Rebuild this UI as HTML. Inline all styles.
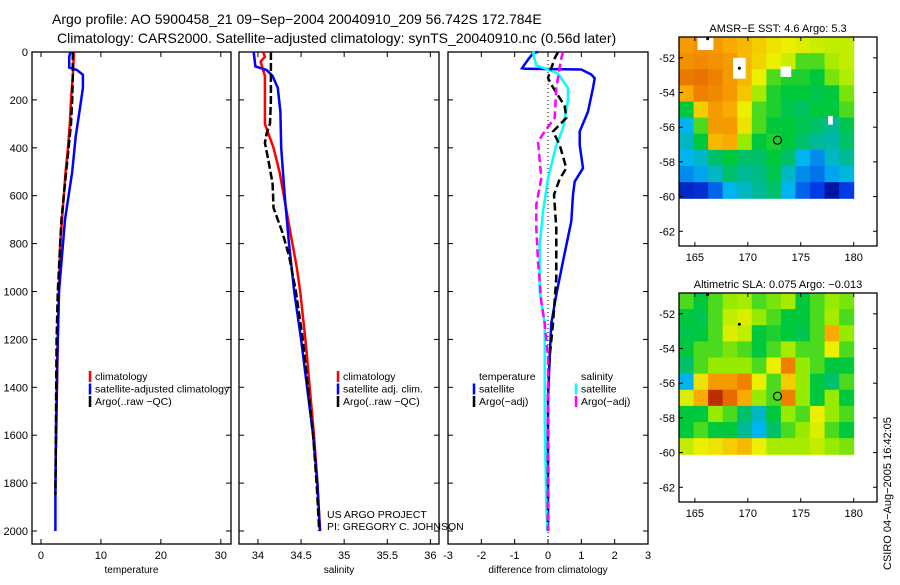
<!DOCTYPE html>
<html><head><meta charset="utf-8"><style>
body{margin:0;background:#fff;width:900px;height:580px;overflow:hidden;font-family:"Liberation Sans",sans-serif}
svg text{font-family:"Liberation Sans",sans-serif}
</style></head><body>
<svg id="chart" width="900" height="580" xmlns="http://www.w3.org/2000/svg">
<text x="52" y="24" font-size="14">Argo profile: AO 5900458_21 09−Sep−2004 20040910_209 56.742S 172.784E</text>
<text x="57" y="43" font-size="14">Climatology: CARS2000. Satellite−adjusted climatology: synTS_20040910.nc (0.56d later)</text>
<g id="g"></g>
<text transform="translate(891,570) rotate(-90)" font-size="11">CSIRO 04−Aug−2005 16:42:05</text>
</svg>
<script>
// ---- data ----
const depthTicks=[0,200,400,600,800,1000,1200,1400,1600,1800,2000];
const tempTicks=[0,10,20,30];
const salTicks=[34,34.5,35,35.5,36];
const diffTicks=[-3,-2,-1,0,1,2,3];
const tClimD=[0,100,200,300,400,500,600,700,800,1000,1200,1500,1650];
const tClimV=[5.5,5.3,5.0,4.8,4.5,4.1,3.8,3.5,3.2,3.0,2.8,2.6,2.5];
const tSatD=[0,20,65,75,95,150,250,350,500,600,700,850,1000,1300,1600,1850,2000];
const tSatV=[4.9,4.7,4.7,6.0,7.0,7.0,6.4,5.8,5.2,4.6,4.0,3.5,3.0,2.7,2.5,2.4,2.4];
const tArgoD=[0,100,200,300,400,500,600,700,800,1000,1200,1500,1850];
const tArgoV=[5.3,5.3,5.2,5.0,4.6,4.2,3.8,3.4,3.2,2.8,2.6,2.5,2.4];
const sClimD=[0,20,40,100,200,300,350,400,500,600,700,800,900,1000,1200,1400,1600,1800,2000];
const sClimV=[34.06,34.08,34.03,34.08,34.08,34.08,34.13,34.18,34.25,34.3,34.35,34.4,34.45,34.49,34.55,34.6,34.65,34.69,34.72];
const sSatD=[0,60,75,100,150,250,400,600,800,1000,1200,1400,1600,1800,2000];
const sSatV=[33.95,33.97,34.1,34.17,34.23,34.26,34.27,34.31,34.36,34.42,34.5,34.57,34.64,34.69,34.72];
const sArgoD=[0,100,200,300,340,380,450,550,650,750,850,1000,1200,1400,1600,1800,2000];
const sArgoV=[34.15,34.15,34.15,34.14,34.1,34.08,34.12,34.17,34.18,34.28,34.36,34.44,34.52,34.58,34.64,34.68,34.71];
const dTSatD=[0,5,32,68,70,73,94,110,150,249,332,388,485,541,596,707,874,1013,1133,1272,1453,2000];
const dTSatV=[-0.3,-0.45,-0.6,-0.78,-0.7,1.0,1.3,1.4,1.35,1.2,0.95,0.95,1.05,0.8,0.75,0.7,0.45,0.25,0.1,0.05,0.0,0.0];
const dSSatD=[0,5,56,73,90,150,200,318,388,527,666,805,1000,1133,1523,1885,2000];
const dSSatV=[-0.4,-0.45,-0.35,0.0,0.3,0.6,0.6,0.45,0.25,0.0,-0.15,-0.25,-0.25,-0.1,-0.1,-0.05,-0.02];
const dTArgoD=[0,26,108,136,226,275,332,388,485,530,596,736,944,1133,1272,1400,2000];
const dTArgoV=[0.3,0.2,0.0,0.1,0.5,0.55,0.15,0.35,0.55,0.35,0.18,0.25,0.25,0.15,0.05,0.0,0.0];
const dSArgoD=[0,26,150,275,332,374,527,638,736,874,1042,1133,1272,2000];
const dSArgoV=[0.45,0.4,0.25,0.2,-0.1,-0.3,-0.2,-0.35,-0.35,-0.3,-0.2,-0.1,0.0,0.0];
const latTicks=[-52,-54,-56,-58,-60,-62];
const lonTicks=[165,170,175,180];
const sstGrid=[
[0.82,0.83,0.82,0.8,0.78,0.75,0.72,0.7,0.68,0.66,0.65,0.65],
[0.83,0.84,0.83,0.82,0.78,0.74,0.7,0.66,0.55,0.55,0.62,0.65],
[0.86,0.87,0.85,0.82,0.78,0.7,0.55,0.52,0.52,0.5,0.58,0.63],
[0.8,0.85,0.84,0.82,0.76,0.62,0.52,0.5,0.5,0.48,0.5,0.58],
[0.5,0.75,0.82,0.8,0.7,0.55,0.52,0.48,0.46,0.5,0.5,0.55],
[0.3,0.55,0.82,0.82,0.72,0.55,0.5,0.5,0.48,0.45,0.4,0.48],
[0.35,0.5,0.78,0.8,0.6,0.5,0.52,0.5,0.45,0.4,0.38,0.45],
[0.3,0.35,0.45,0.5,0.45,0.45,0.5,0.45,0.3,0.25,0.35,0.4],
[0.25,0.28,0.35,0.45,0.4,0.42,0.48,0.35,0.25,0.22,0.28,0.32],
[0.1,0.12,0.2,0.3,0.35,0.4,0.45,0.3,0.2,0.15,0.05,0.15]];
const slaGrid=[
[0.55,0.5,0.55,0.6,0.62,0.55,0.58,0.62,0.5,0.55,0.6,0.58],
[0.5,0.48,0.55,0.65,0.68,0.6,0.55,0.5,0.5,0.55,0.62,0.55],
[0.48,0.5,0.55,0.68,0.65,0.5,0.52,0.5,0.48,0.55,0.8,0.6],
[0.5,0.55,0.55,0.58,0.55,0.5,0.55,0.62,0.55,0.55,0.7,0.55],
[0.45,0.55,0.6,0.6,0.6,0.55,0.7,0.85,0.6,0.55,0.5,0.5],
[0.3,0.72,0.82,0.82,0.85,0.7,0.55,0.75,0.6,0.5,0.45,0.55],
[0.68,0.8,0.95,0.88,0.8,0.6,0.55,0.85,0.6,0.5,0.6,0.5],
[0.5,0.5,0.6,0.55,0.45,0.35,0.5,0.6,0.55,0.7,0.6,0.55],
[0.5,0.55,0.5,0.5,0.4,0.3,0.45,0.55,0.6,0.68,0.55,0.5],
[0.65,0.7,0.72,0.75,0.78,0.7,0.62,0.62,0.62,0.65,0.6,0.58]];
const floatLon=172.8, floatLat=-56.75;
const trackLon=[166.2,169.2], trackLat=[-50.9,-52.6];
const sstHoles=[[166,-51.2,1.5,0.7],[169.2,-52.6,1.2,1.2],[173.6,-52.8,1.0,0.6],[177.8,-55.6,0.45,0.5]];

const NS="http://www.w3.org/2000/svg";
const G=document.getElementById('g');
function mk(tag,at,parent){const e=document.createElementNS(NS,tag);for(const k in at)e.setAttribute(k,at[k]);(parent||G).appendChild(e);return e;}
const yTop=52,yBot=544;
const yD=d=>yTop+d*0.2395;
const panels=[
 {x0:32,x1:231,xmin:-1.5,xmax:31.7,ticks:tempTicks,label:'temperature',name:'temperature-panel',showY:true},
 {x0:239,x1:439,xmin:33.78,xmax:36.1,ticks:salTicks,label:'salinity',name:'salinity-panel'},
 {x0:448,x1:648,xmin:-3,xmax:3,ticks:diffTicks,label:'difference from climatology',name:'difference-panel'}];
panels.forEach(p=>{p.sx=v=>p.x0+(v-p.xmin)/(p.xmax-p.xmin)*(p.x1-p.x0);
 const g=mk('g',{});p.g=g;
 mk('rect',{x:p.x0,y:yTop,width:p.x1-p.x0,height:yBot-yTop,fill:'none',stroke:'#000','stroke-width':1.3},g);
 depthTicks.forEach(d=>{const y=yD(d);
  mk('line',{x1:p.x0,x2:p.x0+5,y1:y,y2:y,stroke:'#000'},g);mk('line',{x1:p.x1,x2:p.x1-5,y1:y,y2:y,stroke:'#000'},g);
  if(p.showY){const t=mk('text',{x:p.x0-4,y:y+4,'font-size':11,'text-anchor':'end'},g);t.textContent=d;
   }});
 p.ticks.forEach(v=>{const x=p.sx(v);
  mk('line',{x1:x,x2:x,y1:yBot,y2:yBot-5,stroke:'#000'},g);mk('line',{x1:x,x2:x,y1:yTop,y2:yTop+5,stroke:'#000'},g);
  const t=mk('text',{x:x,y:559,'font-size':11,'text-anchor':'middle'},g);t.textContent=v;
  });
 const t=mk('text',{x:(p.x0+p.x1)/2,y:573,'font-size':10,'text-anchor':'middle'},g);t.textContent=p.label;
 
});
function line(p,D,V,col,dash,w,name){
 const pts=D.map((d,i)=>p.sx(V[i]).toFixed(1)+','+yD(d).toFixed(1)).join(' ');
 const e=mk('polyline',{points:pts,fill:'none',stroke:col,'stroke-width':w||2.5},p.g);
 if(dash)e.setAttribute('stroke-dasharray',dash);
 
 }
const [P1,P2,P3]=panels;
line(P1,tClimD,tClimV,'#f00',null,2.5,'temp-climatology-line');
line(P1,tSatD,tSatV,'#00f',null,2.5,'temp-satellite-line');
line(P1,tArgoD,tArgoV,'#000','8,3',2.5,'temp-argo-line');
line(P2,sClimD,sClimV,'#f00',null,2.5,'sal-climatology-line');
line(P2,sSatD,sSatV,'#00f',null,2.5,'sal-satellite-line');
line(P2,sArgoD,sArgoV,'#000','8,3',2.5,'sal-argo-line');
mk('line',{x1:P3.sx(0),x2:P3.sx(0),y1:yTop,y2:yBot,stroke:'#000','stroke-dasharray':'1,3'},P3.g);
line(P3,dTSatD,dTSatV,'#00f',null,2.5,'diff-temp-satellite-line');
line(P3,dSSatD,dSSatV,'#0ff',null,2.5,'diff-sal-satellite-line');
line(P3,dTArgoD,dTArgoV,'#000','8,4',2.5,'diff-temp-argo-line');
line(P3,dSArgoD,dSArgoV,'#f0f','8,4',2.5,'diff-sal-argo-line');
function legend(x,y,items){items.forEach((it,i)=>{const yy=y+i*12.5;
 if(it[1])mk('line',{x1:x,x2:x,y1:yy-9,y2:yy+2,stroke:it[1],'stroke-width':2.5});
 const t=mk('text',{x:x+5,y:yy,'font-size':10.5});t.textContent=it[0];
 });}
legend(90,380,[['climatology','#f00'],['satellite-adjusted climatology','#00f'],['Argo(..raw −QC)','#000']]);
legend(338,380,[['climatology','#f00'],['satellite adj. clim.','#00f'],['Argo(..raw −QC)','#000']]);
legend(474,380,[['temperature',null],['satellite','#00f'],['Argo(−adj)','#000']]);
legend(576,380,[['salinity',null],['satellite','#0ff'],['Argo(−adj)','#f0f']]);
let t=mk('text',{x:327,y:518,'font-size':10.5});t.textContent='US ARGO PROJECT';

t=mk('text',{x:327,y:530,'font-size':10.5});t.textContent='PI: GREGORY C. JOHNSON';


// ---- maps ----
function cmap(v){const st=[[0,[0,0,130]],[0.15,[0,60,230]],[0.3,[0,180,240]],[0.4,[0,185,150]],[0.5,[0,200,60]],[0.6,[150,235,0]],[0.7,[235,240,0]],[0.8,[250,170,0]],[0.9,[225,90,0]],[1,[150,0,0]]];
 for(let i=1;i<st.length;i++)if(v<=st[i][0]){const a=st[i-1],b=st[i],f=(v-a[0])/(b[0]-a[0]);
  return 'rgb('+a[1].map((c,k)=>Math.round(c+(b[1][k]-c)*f)).join(',')+')';}return 'rgb(150,0,0)';}
function map(top,bottom,title,grid,holes,name){
 const x0=679,x1=877,lonMin=163.5,lonMax=182.2,latTop=-50.8,latBot=-62.85;
 const sx=l=>x0+(l-lonMin)/(lonMax-lonMin)*(x1-x0), sy=l=>top+(latTop-l)/(latTop-latBot)*(bottom-top);
 const g=mk('g',{});
 const rows=grid.length,cols=grid[0].length,dLon=(180-lonMin)/cols,dLat=(latTop+60.1)/rows;
 grid.forEach((r,i)=>r.forEach((v,j)=>{const xa=sx(lonMin+j*dLon),xb=sx(lonMin+(j+1)*dLon),ya=sy(latTop-i*dLat),yb=sy(latTop-(i+1)*dLat);
  const c=mk('rect',{x:xa,y:ya,width:xb-xa+0.5,height:yb-ya+0.5,fill:cmap(v)},g);
  }));
 (holes||[]).forEach(h=>mk('rect',{x:sx(h[0]-h[2]/2),y:sy(h[1]+h[3]/2),width:h[2]*(x1-x0)/(lonMax-lonMin),height:h[3]*(bottom-top)/(latTop-latBot),fill:'#fff'},g));
 mk('rect',{x:x0,y:top,width:x1-x0,height:bottom-top,fill:'none',stroke:'#000','stroke-width':1.3},g);
 latTicks.forEach(l=>{const y=sy(l);mk('line',{x1:x0,x2:x0+4,y1:y,y2:y,stroke:'#000'},g);mk('line',{x1:x1,x2:x1-4,y1:y,y2:y,stroke:'#000'},g);
  const t=mk('text',{x:x0-4,y:y+4,'font-size':11,'text-anchor':'end'},g);t.textContent=l;
  });
 lonTicks.forEach(l=>{const x=sx(l);mk('line',{x1:x,x2:x,y1:bottom,y2:bottom-4,stroke:'#000'},g);mk('line',{x1:x,x2:x,y1:top,y2:top+4,stroke:'#000'},g);
  const t=mk('text',{x:x,y:bottom+15,'font-size':11,'text-anchor':'middle'},g);t.textContent=l;
  });
 const tt=mk('text',{x:(x0+x1)/2,y:top-5,'font-size':11,'text-anchor':'middle'},g);tt.textContent=title;
 
 trackLon.forEach((l,i)=>mk('circle',{cx:sx(l),cy:sy(trackLat[i]),r:1.5,fill:'#000'},g));
 const fc=mk('circle',{cx:sx(floatLon),cy:sy(floatLat),r:4,fill:'none',stroke:'#000','stroke-width':1.2},g);
 
}
map(37,246,'AMSR−E SST: 4.6 Argo: 5.3',sstGrid,sstHoles,'sst-map');
map(293,502,'Altimetric SLA: 0.075 Argo: −0.013',slaGrid,null,'sla-map');
</script>
</body></html>
